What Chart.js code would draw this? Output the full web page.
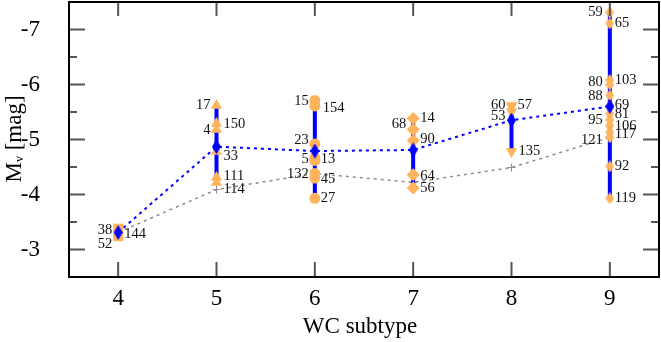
<!DOCTYPE html>
<html>
<head>
<meta charset="utf-8">
<script src="https://cdn.jsdelivr.net/npm/chart.js@4.4.1/dist/chart.umd.min.js"></script>
<style>
  body { margin: 0; background: #fff; }
</style>
</head>
<body>
<canvas id="mvChart" width="661" height="342"></canvas>
<script>
// WC subtypes and the absolute magnitudes of individual stars
const subtypes = [4, 5, 6, 7, 8, 9];

const wc4Stars = [38, 144, 52];
const wc4Mv = [-3.38, -3.31, -3.24];
const wc5Stars = [17, 150, 4, 33, 111, 114];
const wc5Mv = [-5.62, -5.29, -5.18, -4.78, -4.31, -4.22];
const wc6Stars = [15, 154, 23, 5, 13, 132, 45, 27];
const wc6Mv = [-5.71, -5.61, -4.92, -4.66, -4.62, -4.38, -4.30, -3.93];
const wc7Stars = [14, 68, 90, 64, 56];
const wc7Mv = [-5.38, -5.18, -4.98, -4.36, -4.12];
const wc8Stars = [60, 57, 53, 135];
const wc8Mv = [-5.62, -5.60, -5.51, -4.78];
const wc9Stars = [59, 65, 103, 80, 88, 69, 81, 95, 106, 117, 121, 92, 119];
const wc9Mv = [-7.31, -7.11, -6.08, -6.00, -5.80, -5.60, -5.47, -5.36, -5.25, -5.13, -5.04, -4.51, -3.93];

// mean per subtype (blue) and the second (grey) relation
const meanMv = [-3.31, -4.87, -4.79, -4.81, -5.35, -5.60];
const greyMv = [-3.31, -4.09, -4.38, -4.22, -4.49, -5.04];

const yTickValues = [-7, -6, -5, -4, -3];

// where the star numbers sit relative to their marker (px)
const wc4LabelDx = [-6, 6, -6],  wc4LabelDy = [2, 2, 8];
const wc5LabelDx = [-6, 7, -6, 7, 7, 7], wc5LabelDy = [0, 1, 1, 5, -1, 7];
const wc6LabelDx = [-6, 8, -6, -6, 6, -6, 6, 6], wc6LabelDy = [1, 2, -4, 1, -1, 1, 1, 0];
const wc7LabelDx = [7, -7, 7, 7, 7], wc7LabelDy = [0, -5, -1, 1, 0];
const wc8LabelDx = [-6, 6, -6, 7], wc8LabelDy = [0, -1, 5, 0];
const wc9LabelDx = [-7, 5, 5, -7, -7, 5, 5, -7, 5, 5, -7, 5, 5];
const wc9LabelDy = [0, 0, 0, -2, 1, -1, 1, 0, 0, 2, 3, 0, 0];

const ORANGE = '#ffb35a';
const BLUE = '#0000ff';
const GREY = '#8c8c8c';
const FONT = '"Liberation Serif", "Times New Roman", serif';

function diamond(w, h, color) {
    const c = document.createElement('canvas');
    c.width = w; c.height = h;
    const g = c.getContext('2d');
    g.fillStyle = color;
    g.beginPath();
    g.moveTo(w / 2, 0); g.lineTo(w, h / 2); g.lineTo(w / 2, h); g.lineTo(0, h / 2);
    g.closePath();
    g.fill();
    return c;
}

const groups = [
    { wc: 4, ids: wc4Stars, mv: wc4Mv, dx: wc4LabelDx, dy: wc4LabelDy, style: 'rect', r: 7, rot: 0 },
    { wc: 5, ids: wc5Stars, mv: wc5Mv, dx: wc5LabelDx, dy: wc5LabelDy, style: 'triangle', r: 6.5, rot: 0 },
    { wc: 6, ids: wc6Stars, mv: wc6Mv, dx: wc6LabelDx, dy: wc6LabelDy, style: 'circle', r: 5.5, rot: 0 },
    { wc: 7, ids: wc7Stars, mv: wc7Mv, dx: wc7LabelDx, dy: wc7LabelDy, style: 'rectRot', r: 6.5, rot: 0 },
    { wc: 8, ids: wc8Stars, mv: wc8Mv, dx: wc8LabelDx, dy: wc8LabelDy, style: 'triangle', r: 6.5, rot: 180 },
    { wc: 9, ids: wc9Stars, mv: wc9Mv, dx: wc9LabelDx, dy: wc9LabelDy, style: diamond(9, 12, ORANGE), r: 6, rot: 0 }
];

// vertical min..max bar per subtype, broken with null between subtypes
const rangeData = [];
groups.forEach(g => {
    rangeData.push({ x: g.wc, y: Math.min(...g.mv) });
    rangeData.push({ x: g.wc, y: Math.max(...g.mv) });
    rangeData.push({ x: g.wc, y: null });
});

const starSets = groups.map(g => ({
    label: 'WC' + g.wc,
    data: g.mv.map(v => ({ x: g.wc, y: v })),
    pointStyle: g.style,
    pointRadius: g.r,
    rotation: g.rot,
    backgroundColor: ORANGE,
    borderColor: ORANGE,
    borderWidth: 0,
    showLine: false,
    order: 3,
    starIds: g.ids,
    labelDx: g.dx,
    labelDy: g.dy
}));

const starLabels = {
    id: 'starLabels',
    afterDatasetsDraw(chart) {
        const ctx = chart.ctx;
        ctx.save();
        ctx.font = '14.5px ' + FONT;
        ctx.fillStyle = '#111';
        ctx.textBaseline = 'middle';
        chart.data.datasets.forEach((ds, i) => {
            if (!ds.starIds) return;
            chart.getDatasetMeta(i).data.forEach((pt, j) => {
                const dx = ds.labelDx[j];
                ctx.textAlign = dx < 0 ? 'right' : 'left';
                ctx.fillText(String(ds.starIds[j]), pt.x + dx, pt.y + ds.labelDy[j]);
            });
        });
        ctx.restore();
    }
};

const frameAndTicks = {
    id: 'frameAndTicks',
    afterDraw(chart) {
        const { ctx, chartArea: a, scales: { x, y } } = chart;
        ctx.save();
        ctx.strokeStyle = '#555';
        ctx.lineWidth = 2;
        ctx.beginPath();
        x.ticks.forEach(t => {
            const px = x.getPixelForValue(t.value);
            ctx.moveTo(px, a.bottom); ctx.lineTo(px, a.bottom - 15);
            ctx.moveTo(px, a.top); ctx.lineTo(px, a.top + 14);
        });
        y.ticks.forEach(t => {
            const py = y.getPixelForValue(t.value);
            ctx.moveTo(a.left, py); ctx.lineTo(a.left + 16, py);
            ctx.moveTo(a.right, py); ctx.lineTo(a.right - 16, py);
            const pm = y.getPixelForValue(t.value + 0.5);
            ctx.moveTo(a.left, pm); ctx.lineTo(a.left + 8, pm);
            ctx.moveTo(a.right, pm); ctx.lineTo(a.right - 8, pm);
        });
        ctx.stroke();
        ctx.strokeStyle = '#000';
        ctx.strokeRect(a.left, a.top, a.right - a.left, a.bottom - a.top);

        // axis titles
        ctx.fillStyle = '#000';
        ctx.font = '23px ' + FONT;
        ctx.textAlign = 'center';
        ctx.textBaseline = 'middle';
        ctx.fillText('WC subtype', 360, 327);

        ctx.translate(21, 139);
        ctx.rotate(-Math.PI / 2);
        ctx.textAlign = 'left';
        ctx.textBaseline = 'alphabetic';
        const big = '23px ' + FONT, small = '12px ' + FONT;
        ctx.font = big;
        const wM = ctx.measureText('M').width, wRest = ctx.measureText(' [mag]').width;
        ctx.font = small;
        const wv = ctx.measureText('v').width;
        let cx = -(wM + wv + wRest) / 2;
        ctx.font = big; ctx.fillText('M', cx, 0); cx += wM;
        ctx.font = small; ctx.fillText('v', cx, 2); cx += wv;
        ctx.font = big; ctx.fillText(' [mag]', cx, 0);
        ctx.restore();
    }
};

new Chart(document.getElementById('mvChart'), {
    type: 'scatter',
    data: {
        datasets: [
            {
                label: 'grey',
                data: subtypes.map((s, i) => ({ x: s, y: greyMv[i] })),
                showLine: true,
                borderColor: GREY,
                borderWidth: 1.5,
                borderDash: [3, 4],
                pointStyle: 'cross',
                pointRadius: 4,
                pointBorderWidth: 1,
                pointBorderColor: GREY,
                order: 6
            },
            {
                label: 'mean line',
                data: subtypes.map((s, i) => ({ x: s, y: meanMv[i] })),
                showLine: true,
                borderColor: BLUE,
                borderWidth: 2,
                borderDash: [3, 4],
                pointRadius: 0,
                order: 5
            },
            {
                label: 'range',
                data: rangeData,
                showLine: true,
                borderColor: BLUE,
                borderWidth: 4,
                pointRadius: 0,
                spanGaps: false,
                order: 4
            },
            ...starSets,
            {
                label: 'mean',
                data: subtypes.map((s, i) => ({ x: s, y: meanMv[i] })),
                pointStyle: diamond(9, 15, BLUE),
                pointRadius: 7,
                showLine: false,
                order: 1
            }
        ]
    },
    options: {
        responsive: false,
        animation: false,
        layout: { autoPadding: false, padding: { top: 2, right: 2, left: 0, bottom: 0 } },
        plugins: { legend: { display: false }, tooltip: { enabled: false } },
        scales: {
            x: {
                type: 'linear',
                min: 3.5,
                max: 9.5,
                grid: { display: false },
                border: { display: false },
                afterBuildTicks(scale) { scale.ticks = subtypes.map(v => ({ value: v })); },
                ticks: { padding: 0, color: '#000', font: { family: FONT, size: 23 } },
                afterFit(scale) {
                    scale.height = 65;
                    scale.paddingLeft = 0; scale.paddingRight = 0;
                }
            },
            y: {
                min: -7.5,
                max: -2.5,
                reverse: true,
                grid: { display: false },
                border: { display: false },
                afterBuildTicks(scale) { scale.ticks = yTickValues.map(v => ({ value: v })); },
                ticks: { padding: 21, color: '#000', font: { family: FONT, size: 23 } },
                afterFit(scale) {
                    scale.width = 69;
                    scale.paddingTop = 0; scale.paddingBottom = 0;
                }
            }
        }
    },
    plugins: [starLabels, frameAndTicks]
});
</script>
</body>
</html>
